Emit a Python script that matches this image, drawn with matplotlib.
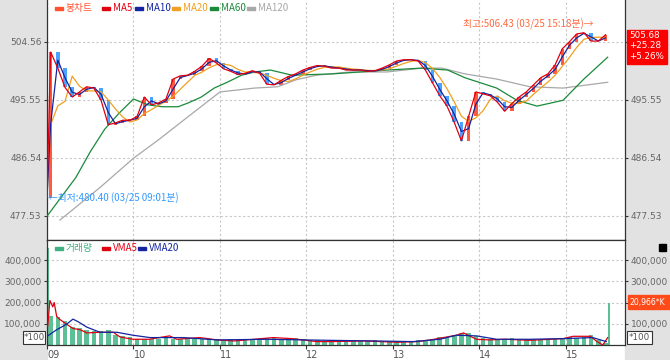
import numpy as np
import pandas as pd
import matplotlib
matplotlib.use('Agg')
import matplotlib.pyplot as plt
from matplotlib.patches import Rectangle

W, H = 670, 360
KFONT = ['Noto Sans CJK KR', 'DejaVu Sans']

# price data: open and 5-minute closes 09:05 ~ 15:30
open_price = 480.40
close_5m = [503.0, 500.5, 497.5, 496.0, 496.8, 497.6, 497.4, 495.5, 491.7, 492.0,
            492.4, 492.4, 493.0, 496.0, 494.8, 495.1, 495.7, 498.8, 499.3, 499.4,
            500.0, 500.8, 502.0, 501.3, 500.4, 500.0, 499.5, 499.7, 500.1, 499.7,
            498.0, 497.9, 498.6, 499.2, 499.6, 500.2, 500.6, 500.9, 500.8, 500.5,
            500.5, 500.2, 500.2, 500.2, 500.0, 500.1, 500.5, 501.0, 501.6, 501.8,
            501.8, 501.6, 500.2, 498.2, 496.2, 494.6, 492.1, 489.2, 493.0, 496.8,
            496.5, 496.2, 495.2, 493.8, 495.0, 496.0, 496.8, 497.9, 499.0, 499.6,
            501.0, 503.5, 504.6, 505.8, 506.0, 504.7, 504.7, 505.68]

# slow averages (minutes after 09:00, value)
ma60_t = [0, 10, 20, 30, 40, 50, 60, 70, 80, 91, 98, 107, 116, 125, 135, 144, 155,
          170, 198, 217, 236, 260, 278, 290, 312, 326, 340, 358, 372, 389]
ma60 = [477.5, 480.5, 483.5, 487.5, 491.0, 493.5, 495.7, 494.8, 494.5, 494.5, 495.1,
        496.0, 497.4, 498.3, 499.4, 499.9, 500.2, 499.4, 499.6, 499.9, 500.2, 500.5,
        500.2, 499.0, 497.4, 495.5, 494.6, 495.5, 498.7, 502.2]
ma120_t = [9, 37, 60, 77, 97, 120, 144, 160, 173, 187, 210, 236, 260, 274, 290, 312,
           335, 358, 389]
ma120 = [476.9, 482.0, 486.5, 489.3, 492.8, 496.8, 497.4, 497.6, 498.7, 499.4, 499.9,
         499.9, 500.5, 500.5, 499.6, 498.8, 497.6, 497.4, 498.3]

# volume (per minute, avg over each 5 min bucket, in thousands)
open_vol = 457000
close_vol = 200000
vol_5m = [135, 130, 115, 85, 80, 70, 68, 65, 70, 48,
          43, 40, 30, 30, 28, 30, 40, 30, 28, 30,
          30, 28, 27, 26, 25, 27, 25, 25, 27, 30,
          35, 33, 30, 28, 32, 28, 25, 22, 20, 22,
          20, 20, 22, 20, 20, 22, 18, 18, 17, 18,
          20, 22, 25, 28, 38, 32, 45, 58, 55, 42,
          32, 28, 26, 28, 35, 27, 26, 27, 28, 30,
          28, 32, 40, 35, 38, 45, 25, 10]
vma5_t = [0.5, 2, 4, 5, 6.7, 9, 13.6, 18, 23, 27.7, 36.8, 46, 50.6, 59.7, 71, 85, 90,
          106, 118, 130, 157, 170, 187, 196, 220, 243, 257, 266, 275, 284, 289, 293,
          298, 307, 318, 335, 358, 365, 377, 381, 385.6, 389]
vma5 = [90, 210, 180, 200, 135, 120, 98, 78, 72, 57, 60, 60, 38, 27, 27, 43, 27,
        35, 24, 19, 35, 30, 16, 16, 19, 13, 16, 24, 35, 46, 57, 43,
        27, 24, 27, 22, 30, 41, 41, 19, 0, 35]
vma20_t = [0.5, 6.7, 13.6, 18, 21.5, 27.7, 36.8, 48.5, 59.7, 71.4, 94.5, 118, 152.5,
           196, 228, 254, 272.6, 284, 298, 312, 335, 358, 378.7, 388]
vma20 = [43, 72, 98, 122, 110, 84, 60, 60, 46, 35, 35, 24, 27, 22, 19, 16, 27, 46,
         43, 27, 27, 30, 35, 16]

hours = ['09', '10', '11', '12', '13', '14', '15']
price_ticks = [477.53, 486.54, 495.55, 504.56]
vol_ticks = [100000, 200000, 300000, 400000]

UP, DOWN = '#ff5a40', '#4aa3ff'
C_MA5, C_MA10, C_MA20, C_MA60, C_MA120 = '#e00010', '#1424a0', '#f0a020', '#1a8a3a', '#a8a8a8'
C_VOL = '#5cbf95'
GRID = dict(ls=(0, (2, 2)), color='#c8c8c8', lw=0.8)
TICKS = dict(left=True, right=True, labelleft=True, labelright=True, length=2.5,
             width=0.8, color='#333333', labelcolor='#666666', labelsize=6.5, pad=1.5)

fig = plt.figure(figsize=(W / 100, H / 100), dpi=100)
fig.patches.append(Rectangle((0, 0), 47 / W, 1, transform=fig.transFigure,
                             color='#e2e2e2', zorder=-1))
fig.patches.append(Rectangle((625 / W, 0), 45 / W, 1, transform=fig.transFigure,
                             color='#e2e2e2', zorder=-1))

ax1 = fig.add_axes([47 / W, 1 - 240 / H, 578 / W, 240 / H])
ax2 = fig.add_axes([47 / W, 1 - 345 / H, 578 / W, 105 / H])

# ---- price panel
s = pd.Series([open_price] + close_5m)
t_close = np.arange(5, 395, 5)
x_ma = np.r_[0, t_close - 2.5]
o = s.values[:-1]
c = s.values[1:]
cols = [UP if cc >= oo else DOWN for oo, cc in zip(o, c)]
hgt = np.maximum(np.abs(c - o), 0.15)
ax1.bar(t_close - 2.5, hgt, bottom=np.minimum(o, c), width=2.4, color=cols, lw=0, zorder=2)

ax1.plot(ma120_t, ma120, color=C_MA120, lw=0.9, zorder=3)
ax1.plot(ma60_t, ma60, color=C_MA60, lw=0.9, zorder=3)
ax1.plot(x_ma, s.rolling(4, min_periods=1).mean(), color=C_MA20, lw=0.9, zorder=3)
ax1.plot(x_ma, s.rolling(2, min_periods=1).mean(), color=C_MA10, lw=0.9, zorder=4)
ax1.plot(x_ma, s, color=C_MA5, lw=0.9, zorder=4)

ax1.set_xlim(0, 401)
ax1.set_ylim(473.8, 511.08)
ax1.set_xticks(np.arange(0, 361, 60))
ax1.set_xticklabels([])
ax1.tick_params(axis='x', length=0)
ax1.set_yticks(price_ticks)
ax1.set_yticklabels([f'{v:.2f}' for v in price_ticks])
ax1.tick_params(axis='y', **TICKS)
ax1.grid(True, **GRID)
ax1.spines['top'].set_visible(False)
for sp in ['left', 'right', 'bottom']:
    ax1.spines[sp].set_color('#333333')
    ax1.spines[sp].set_linewidth(0.9)

ax1.text(379, 507.3, '최고:506.43 (03/25 15:18분)→', color='#ff6a40', fontsize=7,
         family=KFONT, ha='right', va='center')
ax1.text(0.5, 480.2, '←최저:480.40 (03/25 09:01분)', color='#3399ff', fontsize=7,
         family=KFONT, ha='left', va='center')

# ---- volume panel
ax2.bar(np.arange(2.5, 390, 5), np.array(vol_5m) * 1000, width=3.2, color=C_VOL, lw=0, zorder=2)
ax2.bar([0.5, 390], [open_vol, close_vol], width=1.2, color=C_VOL, lw=0, zorder=2)
ax2.plot(vma5_t, np.array(vma5) * 1000, color=C_MA5, lw=0.9, zorder=3)
ax2.plot(vma20_t, np.array(vma20) * 1000, color=C_MA10, lw=0.9, zorder=3)
ax2.set_xlim(0, 401)
ax2.set_ylim(0, 495000)
ax2.set_yticks(vol_ticks)
ax2.set_yticklabels([f'{v:,}' for v in vol_ticks])
ax2.tick_params(axis='y', **TICKS)
ax2.set_xticks(np.arange(0, 361, 60))
ax2.set_xticklabels(hours)
ax2.tick_params(axis='x', length=3, width=0.8, color='#333333', labelcolor='#555555',
                labelsize=7, pad=0.5)
for lbl in ax2.get_xticklabels():
    lbl.set_ha('left')
ax2.grid(True, **GRID)
for sp in ax2.spines.values():
    sp.set_color('#333333')
    sp.set_linewidth(0.9)

# right-hand labels hidden behind the current-value boxes
ax1.yaxis.get_major_ticks()[3].label2.set_visible(False)
ax2.yaxis.get_major_ticks()[1].label2.set_visible(False)


def px(x, y):
    return x / W, 1 - y / H


def legend_item(x, y, color, label, tcolor=None):
    fig.patches.append(Rectangle(px(x, y + 1.5), 8 / W, 3 / H, transform=fig.transFigure,
                                 color=color, zorder=5))
    fig.text(*px(x + 11, y), label, color=tcolor or color, fontsize=7,
             family=KFONT, va='center', zorder=5)


legend_item(55, 8, '#ff5030', '봉차트')
legend_item(102, 8, C_MA5, 'MA5')
legend_item(135, 8, C_MA10, 'MA10')
legend_item(172, 8, C_MA20, 'MA20')
legend_item(210, 8, C_MA60, 'MA60')
legend_item(247, 8, C_MA120, 'MA120')
legend_item(55, 248, '#40b080', '거래량')
legend_item(102, 248, C_MA5, 'VMA5')
legend_item(138, 248, C_MA10, 'VMA20')

# right-side value boxes
fig.patches.append(Rectangle(px(627, 64), 40 / W, 34 / H, transform=fig.transFigure,
                             color='#ff0000', zorder=5))
for i, txt in enumerate(['505.68', '+25.28', '+5.26%']):
    fig.text(*px(629, 35.5 + i * 10.5), txt, color='white', fontsize=6.3, va='center', zorder=6)
fig.patches.append(Rectangle(px(628, 309), 42 / W, 14 / H, transform=fig.transFigure,
                             color='#ff4a1a', zorder=5))
fig.text(*px(629, 302), '20,966*K', color='white', fontsize=5.6, va='center', zorder=6)

# *100 unit boxes
for bx, bw in [(23, 22), (627, 25)]:
    fig.patches.append(Rectangle(px(bx, 344), bw / W, 13 / H, transform=fig.transFigure,
                                 facecolor='white', edgecolor='#333333', lw=0.8, zorder=5))
    fig.text(*px(bx + bw / 2, 337.5), '*100', color='#555555', fontsize=6.3,
             ha='center', va='center', zorder=6)
fig.patches.append(Rectangle(px(659, 251), 7 / W, 7 / H, transform=fig.transFigure,
                             color='black', zorder=5))

fig.savefig('out.png', dpi=100)
